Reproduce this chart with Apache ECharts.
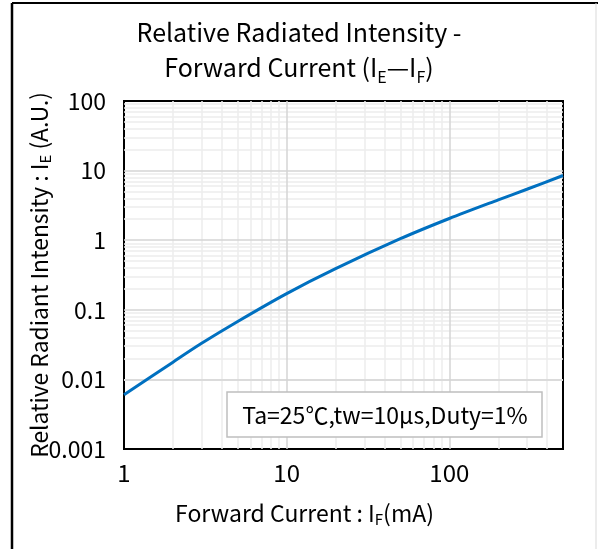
<!DOCTYPE html>
<html>
<head>
<meta charset="utf-8">
<script src="https://cdn.jsdelivr.net/npm/echarts@6/dist/echarts.min.js"></script>
<style>
html,body{margin:0;padding:0;background:#fff;}
#chart{width:598px;height:549px;}
</style>
</head>
<body>
<div id="chart"></div>
<script>
// Data
var currentMA = [1, 2, 3, 5, 10, 20, 50, 100, 200, 300, 500];
var intensity = [0.006, 0.0177, 0.033, 0.068, 0.171, 0.39, 1.05, 2.05, 3.8, 5.4, 8.5];
var xMajor = [10, 100];
var xMinor = [2, 3, 4, 5, 6, 7, 8, 9, 20, 30, 40, 50, 60, 70, 80, 90, 200, 300, 400];
var yMajor = [0.01, 0.1, 1, 10];
var yMinor = [];
[0.001, 0.01, 0.1, 1, 10].forEach(function (d) {
  for (var k = 2; k <= 9; k++) yMinor.push(+(d * k).toPrecision(3));
});
var xTickLabels = ['1', '10', '100'];
var yTickLabels = ['0.001', '0.01', '0.1', '1', '10', '100'];

var FONT = '"Noto Sans CJK JP", "Liberation Sans", sans-serif';

function vLines(vals) { return vals.map(function (v) { return { xAxis: v }; }); }
function hLines(vals) { return vals.map(function (v) { return { yAxis: v }; }); }

var chart = echarts.init(document.getElementById('chart'), null, { renderer: 'canvas' });
chart.setOption({
  animation: false,
  backgroundColor: '#fff',
  title: {
    text: 'Relative Radiated Intensity -\nForward Current (I{s|E}—I{s|F})',
    left: 'center',
    top: 10,
    textStyle: {
      fontFamily: FONT, fontSize: 25, fontWeight: 'normal', color: '#000', lineHeight: 35,
      rich: { s: { fontFamily: FONT, fontSize: 16, verticalAlign: 'bottom', padding: [12, 0, 0, 0], color: '#000' } }
    }
  },
  grid: {
    left: 124, top: 101, width: 439, height: 348,
    show: true, borderColor: '#000', borderWidth: 2, backgroundColor: 'transparent'
  },
  xAxis: {
    type: 'log', logBase: 10, min: 1, max: 500,
    axisLine: { show: false }, axisTick: { show: false }, splitLine: { show: false },
    axisLabel: {
      fontFamily: FONT, fontSize: 24, color: '#000', margin: 12,
      formatter: function (v) { var s = String(+(+v).toPrecision(3)); return xTickLabels.indexOf(s) >= 0 ? s : ''; }
    },
    name: 'Forward Current : I{s|F}(mA)',
    nameLocation: 'middle', nameGap: 51, nameMoveOverlap: false,
    nameTextStyle: {
      fontFamily: FONT, fontSize: 23, color: '#000', padding: [0, 78, 0, 0],
      rich: { s: { fontFamily: FONT, fontSize: 15, padding: [12, 0, 0, 0], color: '#000' } }
    }
  },
  yAxis: {
    type: 'log', logBase: 10, min: 0.001, max: 100,
    axisLine: { show: false }, axisTick: { show: false }, splitLine: { show: false },
    axisLabel: {
      fontFamily: FONT, fontSize: 23, color: '#000', margin: 18,
      formatter: function (v) { var s = String(+(+v).toPrecision(3)); return yTickLabels.indexOf(s) >= 0 ? s : ''; }
    },
    name: 'Relative Radiant Intensity : I{s|E} (A.U.)',
    nameLocation: 'middle', nameGap: 71, nameRotate: 90, nameMoveOverlap: false,
    nameTextStyle: {
      fontFamily: FONT, fontSize: 22.8, color: '#000',
      rich: { s: { fontFamily: FONT, fontSize: 15, padding: [12, 0, 0, 0], color: '#000' } }
    }
  },
  series: [
    {
      type: 'line', data: [], silent: true, z: 1,
      markLine: {
        silent: true, symbol: 'none', animation: false, label: { show: false },
        lineStyle: { type: 'solid', color: '#ececec', width: 1.5 },
        data: vLines(xMinor).concat(hLines(yMinor))
      }
    },
    {
      type: 'line', data: [], silent: true, z: 1,
      markLine: {
        silent: true, symbol: 'none', animation: false, label: { show: false },
        lineStyle: { type: 'solid', color: '#d4d4d4', width: 1.5 },
        data: vLines(xMajor).concat(hLines(yMajor))
      }
    },
    {
      type: 'line', z: 5,
      data: currentMA.map(function (x, i) { return [x, intensity[i]]; }),
      smooth: 0.3, showSymbol: false, symbol: 'none',
      lineStyle: { color: '#0070c0', width: 3 }
    }
  ],
  graphic: [
    { type: 'line', shape: { x1: 12, y1: 3, x2: 598, y2: 3 }, style: { stroke: '#000', lineWidth: 2 } },
    { type: 'line', shape: { x1: 12, y1: 3, x2: 12, y2: 549 }, style: { stroke: '#000', lineWidth: 2.5 } },
    { type: 'line', shape: { x1: 596, y1: 3, x2: 596, y2: 549 }, style: { stroke: '#d9d9d9', lineWidth: 1 } },
    {
      type: 'rect', z: 10, shape: { x: 227, y: 392, width: 315, height: 45 },
      style: { fill: '#fff', stroke: '#bfbfbf', lineWidth: 1.5 }
    },
    {
      type: 'text', z: 11, x: 385, y: 415,
      style: {
        text: 'Ta=25℃,tw=10μs,Duty=1%', font: '23px ' + FONT,
        fill: '#000', align: 'center', verticalAlign: 'middle'
      }
    }
  ]
});
</script>
</body>
</html>
